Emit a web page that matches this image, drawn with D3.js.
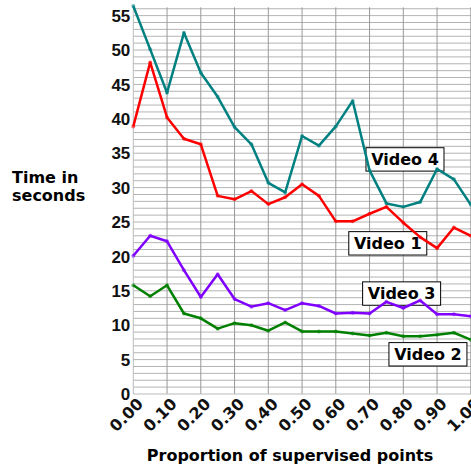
<!DOCTYPE html>
<html>
<head>
<meta charset="utf-8">
<script src="https://cdn.jsdelivr.net/npm/d3@7"></script>
<style>
body { margin: 0; background: #fff; }
svg { display: block; }
</style>
</head>
<body>
<div id="chart-area"></div>
<script>
// proportion of supervised points, 0 to 1 in steps of 0.05
var proportions = [0, 0.05, 0.10, 0.15, 0.20, 0.25, 0.30, 0.35, 0.40, 0.45, 0.50,
    0.55, 0.60, 0.65, 0.70, 0.75, 0.80, 0.85, 0.90, 0.95, 1.00];

var video1 = [38.9, 48.2, 40.2, 37.1, 36.3, 28.8, 28.3, 29.5, 27.6, 28.6, 30.5,
    28.8, 25.1, 25.1, 26.2, 27.2, 24.9, 22.8, 21.2, 24.2, 23.0];
var video2 = [15.8, 14.2, 15.8, 11.7, 11.0, 9.5, 10.3, 10.0, 9.2, 10.4, 9.1,
    9.1, 9.1, 8.8, 8.5, 8.9, 8.4, 8.4, 8.6, 8.9, 7.9];
var video3 = [20.1, 23.0, 22.2, 18.0, 14.1, 17.4, 13.8, 12.7, 13.2, 12.2, 13.2,
    12.8, 11.7, 11.8, 11.7, 13.4, 12.5, 13.6, 11.6, 11.6, 11.3];
var video4 = [56.4, 50.1, 43.8, 52.5, 46.7, 43.2, 38.8, 36.3, 30.7, 29.3, 37.5,
    36.1, 38.9, 42.6, 32.5, 27.7, 27.2, 27.9, 32.7, 31.2, 27.5];

var seriesNames = ["Video 4", "Video 1", "Video 3", "Video 2"];
var seriesValues = [video4, video1, video3, video2];
var seriesColors = ["#008080", "#ff0000", "#8000ff", "#008000"];

var xTicks = [0, 0.1, 0.2, 0.3, 0.4, 0.5, 0.6, 0.7, 0.8, 0.9, 1.0];
var yTicks = [0, 5, 10, 15, 20, 25, 30, 35, 40, 45, 50, 55];

var width = 471;
var height = 466;

var svg = d3.select("#chart-area")
    .append("svg")
    .attr("width", width)
    .attr("height", height);

var x = d3.scaleLinear().domain([0, 1]).range([133.3, 470.8]);
var y = d3.scaleLinear().domain([0, 56.5]).range([394, 5.3]);

// horizontal grid, one line per second
svg.append("g")
    .selectAll("line")
    .data(d3.range(1, 57))
    .enter()
    .append("line")
    .attr("x1", x(0))
    .attr("x2", width)
    .attr("y1", function(d) { return y(d); })
    .attr("y2", function(d) { return y(d); })
    .attr("stroke", "#b4b4b4")
    .attr("stroke-width", 1);

// vertical grid
svg.append("g")
    .selectAll("line")
    .data(xTicks.slice(1))
    .enter()
    .append("line")
    .attr("x1", function(d) { return x(d); })
    .attr("x2", function(d) { return x(d); })
    .attr("y1", y(56.5) + 2)
    .attr("y2", y(0))
    .attr("stroke", "#999")
    .attr("stroke-width", 1);

// axis lines
svg.append("line")
    .attr("x1", x(0)).attr("x2", x(0))
    .attr("y1", y(56.5)).attr("y2", y(0))
    .attr("stroke", "#bbb");
svg.append("line")
    .attr("x1", x(0)).attr("x2", width)
    .attr("y1", y(0)).attr("y2", y(0))
    .attr("stroke", "#bbb");

// y tick labels
svg.append("g")
    .selectAll("text")
    .data(yTicks)
    .enter()
    .append("text")
    .attr("x", x(0) - 3)
    .attr("y", function(d) { return y(d); })
    .attr("dy", "0.36em")
    .attr("text-anchor", "end")
    .attr("font-family", "Liberation Sans, Arial, sans-serif")
    .attr("font-weight", "bold")
    .attr("font-size", 17)
    .attr("fill", "#111")
    .text(function(d) { return d; });

// x tick labels, rotated
svg.append("g")
    .selectAll("text")
    .data(xTicks)
    .enter()
    .append("text")
    .attr("transform", function(d) {
        return "translate(" + (x(d) + 3) + "," + (y(0) + 3) + ") rotate(-45)";
    })
    .attr("text-anchor", "end")
    .attr("dy", "0.7em")
    .attr("font-family", "DejaVu Sans, sans-serif")
    .attr("font-weight", "bold")
    .attr("font-size", 16)
    .attr("fill", "#111")
    .text(function(d) { return d.toFixed(2); });

// axis titles
svg.append("text")
    .attr("x", 290)
    .attr("y", 461)
    .attr("text-anchor", "middle")
    .attr("font-family", "DejaVu Sans, sans-serif")
    .attr("font-weight", "bold")
    .attr("font-size", 16)
    .text("Proportion of supervised points");

var yTitle = svg.append("text")
    .attr("font-family", "DejaVu Sans, sans-serif")
    .attr("font-weight", "bold")
    .attr("font-size", 16);
yTitle.append("tspan").attr("x", 12).attr("y", 183).text("Time in");
yTitle.append("tspan").attr("x", 12).attr("y", 201).text("seconds");

// label boxes, placed in data units
var labelX = [0.805, 0.754, 0.795, 0.873];
var labelY = [34.1, 21.9, 14.6, 5.77];

var labels = svg.append("g")
    .selectAll("g")
    .data(seriesNames)
    .enter()
    .append("g")
    .attr("transform", function(d, i) {
        return "translate(" + x(labelX[i]) + "," + y(labelY[i]) + ")";
    });

labels.append("rect")
    .attr("x", -39)
    .attr("y", -11.7)
    .attr("width", 78)
    .attr("height", 23.4)
    .attr("fill", "#fff")
    .attr("stroke", "#000")
    .attr("stroke-width", 1);

labels.append("text")
    .attr("text-anchor", "middle")
    .attr("dy", "0.36em")
    .attr("font-family", "DejaVu Sans, sans-serif")
    .attr("font-weight", "bold")
    .attr("font-size", 16)
    .text(function(d) { return d; });

// lines and point markers
var line = d3.line()
    .x(function(d, i) { return x(proportions[i]); })
    .y(function(d) { return y(d); });

seriesValues.forEach(function(vals, k) {
    svg.append("path")
        .datum(vals)
        .attr("d", line)
        .attr("fill", "none")
        .attr("stroke", seriesColors[k])
        .attr("stroke-width", 2.5)
        .attr("stroke-linejoin", "round");

    svg.append("g")
        .selectAll("circle")
        .data(vals)
        .enter()
        .append("circle")
        .attr("cx", function(d, i) { return x(proportions[i]); })
        .attr("cy", function(d) { return y(d); })
        .attr("r", 2)
        .attr("fill", seriesColors[k])
        .attr("fill-opacity", 0.55);
});
</script>
</body>
</html>
